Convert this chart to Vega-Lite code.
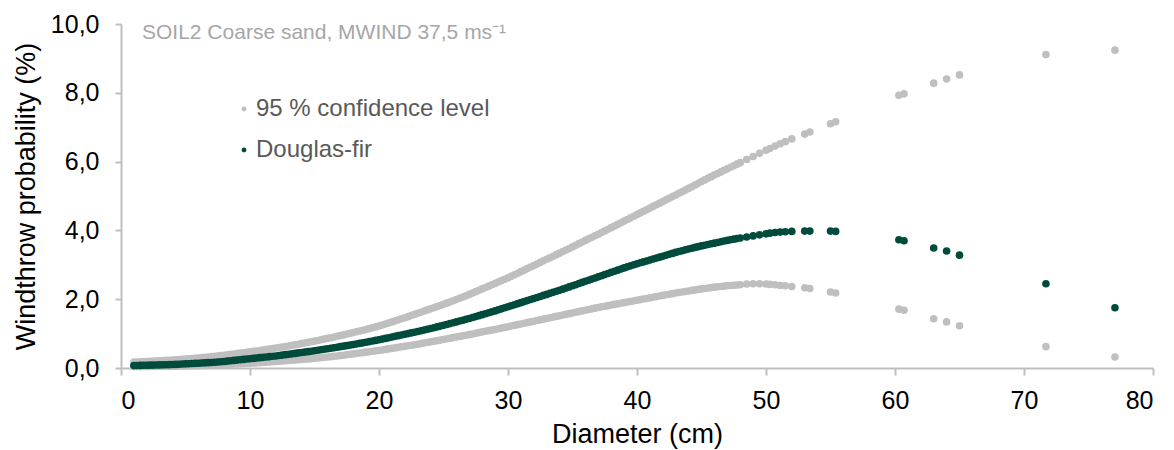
{
  "$schema": "https://vega.github.io/schema/vega-lite/v6.json",
  "width": 1032,
  "height": 344,
  "autosize": {"type": "none"},
  "padding": {"left": 121, "top": 24, "right": 21, "bottom": 82},
  "background": "white",
  "config": {
    "font": "Liberation Sans",
    "view": {"stroke": null},
    "axis": {
      "grid": false,
      "domainColor": "#bfbfbf",
      "domainWidth": 2,
      "tickColor": "#bfbfbf",
      "tickWidth": 2,
      "tickSize": 6,
      "labelFontSize": 25,
      "labelColor": "#000000",
      "titleFontSize": 27,
      "titleFontWeight": "normal",
      "titleColor": "#000000"
    }
  },
  "title": {
    "text": "SOIL2 Coarse sand, MWIND 37,5 ms⁻¹",
    "anchor": "start",
    "frame": "group",
    "fontSize": 21,
    "fontWeight": "normal",
    "color": "#a6a6a6",
    "dx": 21,
    "dy": 31,
    "offset": 0
  },
  "datasets": {
    "trees": [
      {"d":1,"lo":0.04,"fir":0.07,"hi":0.17},{"d":1.5,"lo":0.04,"fir":0.075,"hi":0.18},
      {"d":2,"lo":0.04,"fir":0.08,"hi":0.19},{"d":2.5,"lo":0.045,"fir":0.085,"hi":0.2},
      {"d":3,"lo":0.05,"fir":0.09,"hi":0.21},{"d":3.5,"lo":0.05,"fir":0.095,"hi":0.22},
      {"d":4,"lo":0.05,"fir":0.1,"hi":0.23},{"d":4.5,"lo":0.055,"fir":0.11,"hi":0.245},
      {"d":5,"lo":0.06,"fir":0.12,"hi":0.26},{"d":5.5,"lo":0.065,"fir":0.13,"hi":0.275},
      {"d":6,"lo":0.07,"fir":0.14,"hi":0.29},{"d":6.5,"lo":0.075,"fir":0.15,"hi":0.31},
      {"d":7,"lo":0.08,"fir":0.16,"hi":0.33},{"d":7.5,"lo":0.09,"fir":0.175,"hi":0.35},
      {"d":8,"lo":0.1,"fir":0.19,"hi":0.37},{"d":8.5,"lo":0.11,"fir":0.21,"hi":0.395},
      {"d":9,"lo":0.12,"fir":0.23,"hi":0.42},{"d":9.5,"lo":0.13,"fir":0.25,"hi":0.445},
      {"d":10,"lo":0.14,"fir":0.27,"hi":0.47},{"d":10.5,"lo":0.15,"fir":0.29,"hi":0.495},
      {"d":11,"lo":0.16,"fir":0.31,"hi":0.52},{"d":11.5,"lo":0.175,"fir":0.33,"hi":0.55},
      {"d":12,"lo":0.19,"fir":0.35,"hi":0.58},{"d":12.5,"lo":0.205,"fir":0.375,"hi":0.61},
      {"d":13,"lo":0.22,"fir":0.4,"hi":0.64},{"d":13.5,"lo":0.235,"fir":0.425,"hi":0.675},
      {"d":14,"lo":0.25,"fir":0.45,"hi":0.71},{"d":14.5,"lo":0.265,"fir":0.475,"hi":0.745},
      {"d":15,"lo":0.28,"fir":0.5,"hi":0.78},{"d":15.5,"lo":0.3,"fir":0.53,"hi":0.82},
      {"d":16,"lo":0.32,"fir":0.56,"hi":0.86},{"d":16.5,"lo":0.34,"fir":0.59,"hi":0.9},
      {"d":17,"lo":0.36,"fir":0.62,"hi":0.94},{"d":17.5,"lo":0.385,"fir":0.65,"hi":0.985},
      {"d":18,"lo":0.41,"fir":0.68,"hi":1.03},{"d":18.5,"lo":0.435,"fir":0.715,"hi":1.075},
      {"d":19,"lo":0.46,"fir":0.75,"hi":1.12},{"d":19.5,"lo":0.485,"fir":0.785,"hi":1.17},
      {"d":20,"lo":0.51,"fir":0.82,"hi":1.22},{"d":20.5,"lo":0.54,"fir":0.86,"hi":1.28},
      {"d":21,"lo":0.57,"fir":0.9,"hi":1.34},{"d":21.5,"lo":0.6,"fir":0.94,"hi":1.4},
      {"d":22,"lo":0.63,"fir":0.98,"hi":1.46},{"d":22.5,"lo":0.66,"fir":1.02,"hi":1.525},
      {"d":23,"lo":0.69,"fir":1.06,"hi":1.59},{"d":23.5,"lo":0.725,"fir":1.105,"hi":1.655},
      {"d":24,"lo":0.76,"fir":1.15,"hi":1.72},{"d":24.5,"lo":0.795,"fir":1.195,"hi":1.785},
      {"d":25,"lo":0.83,"fir":1.24,"hi":1.85},{"d":25.5,"lo":0.865,"fir":1.29,"hi":1.92},
      {"d":26,"lo":0.9,"fir":1.34,"hi":1.99},{"d":26.5,"lo":0.935,"fir":1.39,"hi":2.065},
      {"d":27,"lo":0.97,"fir":1.44,"hi":2.14},{"d":27.5,"lo":1.01,"fir":1.495,"hi":2.22},
      {"d":28,"lo":1.05,"fir":1.55,"hi":2.3},{"d":28.5,"lo":1.085,"fir":1.605,"hi":2.38},
      {"d":29,"lo":1.12,"fir":1.66,"hi":2.46},{"d":29.5,"lo":1.16,"fir":1.72,"hi":2.54},
      {"d":30,"lo":1.2,"fir":1.78,"hi":2.62},{"d":30.5,"lo":1.24,"fir":1.84,"hi":2.71},
      {"d":31,"lo":1.28,"fir":1.9,"hi":2.8},{"d":31.5,"lo":1.32,"fir":1.96,"hi":2.89},
      {"d":32,"lo":1.36,"fir":2.02,"hi":2.98},{"d":32.5,"lo":1.4,"fir":2.08,"hi":3.07},
      {"d":33,"lo":1.44,"fir":2.14,"hi":3.16},{"d":33.5,"lo":1.48,"fir":2.2,"hi":3.25},
      {"d":34,"lo":1.52,"fir":2.26,"hi":3.34},{"d":34.5,"lo":1.56,"fir":2.325,"hi":3.43},
      {"d":35,"lo":1.6,"fir":2.39,"hi":3.52},{"d":35.5,"lo":1.64,"fir":2.455,"hi":3.615},
      {"d":36,"lo":1.68,"fir":2.52,"hi":3.71},{"d":36.5,"lo":1.72,"fir":2.585,"hi":3.8},
      {"d":37,"lo":1.76,"fir":2.65,"hi":3.89},{"d":37.5,"lo":1.795,"fir":2.715,"hi":3.985},
      {"d":38,"lo":1.83,"fir":2.78,"hi":4.08},{"d":38.5,"lo":1.865,"fir":2.845,"hi":4.175},
      {"d":39,"lo":1.9,"fir":2.91,"hi":4.27},{"d":39.5,"lo":1.935,"fir":2.97,"hi":4.365},
      {"d":40,"lo":1.97,"fir":3.03,"hi":4.46},{"d":40.5,"lo":2.005,"fir":3.085,"hi":4.555},
      {"d":41,"lo":2.04,"fir":3.14,"hi":4.65},{"d":41.5,"lo":2.075,"fir":3.195,"hi":4.745},
      {"d":42,"lo":2.11,"fir":3.25,"hi":4.84},{"d":42.5,"lo":2.145,"fir":3.305,"hi":4.935},
      {"d":43,"lo":2.18,"fir":3.36,"hi":5.03},{"d":43.5,"lo":2.21,"fir":3.41,"hi":5.125},
      {"d":44,"lo":2.24,"fir":3.46,"hi":5.22},{"d":44.5,"lo":2.27,"fir":3.505,"hi":5.32},
      {"d":45,"lo":2.3,"fir":3.55,"hi":5.42},{"d":45.5,"lo":2.325,"fir":3.59,"hi":5.515},
      {"d":46,"lo":2.35,"fir":3.63,"hi":5.61},{"d":46.5,"lo":2.37,"fir":3.67,"hi":5.7},
      {"d":47,"lo":2.39,"fir":3.71,"hi":5.79},{"d":47.5,"lo":2.405,"fir":3.745,"hi":5.88},
      {"d":48,"lo":2.42,"fir":3.78,"hi":5.97},{"d":48.5,"lo":2.44,"fir":3.81,"hi":6.06},
      {"d":49,"lo":2.45,"fir":3.84,"hi":6.15},{"d":49.5,"lo":2.45,"fir":3.87,"hi":6.24},
      {"d":50,"lo":2.44,"fir":3.9,"hi":6.33},{"d":50.3,"lo":2.43,"fir":3.92,"hi":6.38},
      {"d":50.7,"lo":2.42,"fir":3.94,"hi":6.45},{"d":51.1,"lo":2.4,"fir":3.95,"hi":6.52},
      {"d":51.5,"lo":2.39,"fir":3.96,"hi":6.58},{"d":52,"lo":2.37,"fir":3.97,"hi":6.66},
      {"d":53,"lo":2.33,"fir":3.98,"hi":6.8},{"d":53.4,"lo":2.31,"fir":3.98,"hi":6.86},
      {"d":55,"lo":2.21,"fir":3.98,"hi":7.1},{"d":55.4,"lo":2.18,"fir":3.97,"hi":7.16},
      {"d":60.3,"lo":1.71,"fir":3.73,"hi":7.93},{"d":60.7,"lo":1.68,"fir":3.7,"hi":7.97},
      {"d":63,"lo":1.43,"fir":3.49,"hi":8.28},{"d":64,"lo":1.34,"fir":3.4,"hi":8.4},
      {"d":65,"lo":1.23,"fir":3.28,"hi":8.52},{"d":71.7,"lo":0.62,"fir":2.45,"hi":9.11},
      {"d":77.05,"lo":0.32,"fir":1.75,"hi":9.24},
      {"d":1.25,"lo":0.04,"fir":0.072,"hi":0.175},{"d":1.75,"lo":0.04,"fir":0.078,"hi":0.185},
      {"d":2.25,"lo":0.042,"fir":0.082,"hi":0.195},{"d":2.75,"lo":0.048,"fir":0.088,"hi":0.205},
      {"d":3.25,"lo":0.05,"fir":0.092,"hi":0.215},{"d":3.75,"lo":0.05,"fir":0.098,"hi":0.225},
      {"d":4.25,"lo":0.052,"fir":0.105,"hi":0.238},{"d":4.75,"lo":0.058,"fir":0.115,"hi":0.252},
      {"d":5.25,"lo":0.062,"fir":0.125,"hi":0.268},{"d":5.75,"lo":0.068,"fir":0.135,"hi":0.282},
      {"d":6.25,"lo":0.072,"fir":0.145,"hi":0.3},{"d":6.75,"lo":0.078,"fir":0.155,"hi":0.32},
      {"d":7.25,"lo":0.085,"fir":0.168,"hi":0.34},{"d":7.75,"lo":0.095,"fir":0.182,"hi":0.36},
      {"d":8.25,"lo":0.105,"fir":0.2,"hi":0.382},{"d":8.75,"lo":0.115,"fir":0.22,"hi":0.408},
      {"d":9.25,"lo":0.125,"fir":0.24,"hi":0.432},{"d":9.75,"lo":0.135,"fir":0.26,"hi":0.458},
      {"d":10.25,"lo":0.145,"fir":0.28,"hi":0.482},{"d":10.75,"lo":0.155,"fir":0.3,"hi":0.508},
      {"d":11.25,"lo":0.168,"fir":0.32,"hi":0.535},{"d":11.75,"lo":0.182,"fir":0.34,"hi":0.565},
      {"d":12.25,"lo":0.198,"fir":0.362,"hi":0.595},{"d":12.75,"lo":0.212,"fir":0.388,"hi":0.625},
      {"d":13.25,"lo":0.228,"fir":0.412,"hi":0.658},{"d":13.75,"lo":0.242,"fir":0.438,"hi":0.692},
      {"d":14.25,"lo":0.258,"fir":0.462,"hi":0.728},{"d":14.75,"lo":0.272,"fir":0.488,"hi":0.762},
      {"d":15.25,"lo":0.29,"fir":0.515,"hi":0.8},{"d":15.75,"lo":0.31,"fir":0.545,"hi":0.84},
      {"d":16.25,"lo":0.33,"fir":0.575,"hi":0.88},{"d":16.75,"lo":0.35,"fir":0.605,"hi":0.92},
      {"d":17.25,"lo":0.372,"fir":0.635,"hi":0.962},{"d":17.75,"lo":0.398,"fir":0.665,"hi":1.008},
      {"d":18.25,"lo":0.422,"fir":0.698,"hi":1.052},{"d":18.75,"lo":0.448,"fir":0.732,"hi":1.098},
      {"d":19.25,"lo":0.472,"fir":0.768,"hi":1.145},{"d":19.75,"lo":0.498,"fir":0.802,"hi":1.195},
      {"d":20.25,"lo":0.525,"fir":0.84,"hi":1.25},{"d":20.75,"lo":0.555,"fir":0.88,"hi":1.31},
      {"d":21.25,"lo":0.585,"fir":0.92,"hi":1.37},{"d":21.75,"lo":0.615,"fir":0.96,"hi":1.43},
      {"d":22.25,"lo":0.645,"fir":1.0,"hi":1.492},{"d":22.75,"lo":0.675,"fir":1.04,"hi":1.558},
      {"d":23.25,"lo":0.708,"fir":1.082,"hi":1.622},{"d":23.75,"lo":0.742,"fir":1.128,"hi":1.688},
      {"d":24.25,"lo":0.778,"fir":1.172,"hi":1.752},{"d":24.75,"lo":0.812,"fir":1.218,"hi":1.818},
      {"d":25.25,"lo":0.848,"fir":1.265,"hi":1.885},{"d":25.75,"lo":0.882,"fir":1.315,"hi":1.955},
      {"d":26.25,"lo":0.918,"fir":1.365,"hi":2.028},{"d":26.75,"lo":0.952,"fir":1.415,"hi":2.102},
      {"d":27.25,"lo":0.99,"fir":1.468,"hi":2.18},{"d":27.75,"lo":1.03,"fir":1.522,"hi":2.26},
      {"d":28.25,"lo":1.068,"fir":1.578,"hi":2.34},{"d":28.75,"lo":1.102,"fir":1.632,"hi":2.42},
      {"d":29.25,"lo":1.14,"fir":1.69,"hi":2.5},{"d":29.75,"lo":1.18,"fir":1.75,"hi":2.58},
      {"d":30.25,"lo":1.22,"fir":1.81,"hi":2.665},{"d":30.75,"lo":1.26,"fir":1.87,"hi":2.755},
      {"d":31.25,"lo":1.3,"fir":1.93,"hi":2.845},{"d":31.75,"lo":1.34,"fir":1.99,"hi":2.935},
      {"d":32.25,"lo":1.38,"fir":2.05,"hi":3.025},{"d":32.75,"lo":1.42,"fir":2.11,"hi":3.115},
      {"d":33.25,"lo":1.46,"fir":2.17,"hi":3.205},{"d":33.75,"lo":1.5,"fir":2.23,"hi":3.295},
      {"d":34.25,"lo":1.54,"fir":2.292,"hi":3.385},{"d":34.75,"lo":1.58,"fir":2.358,"hi":3.475},
      {"d":35.25,"lo":1.62,"fir":2.422,"hi":3.568},{"d":35.75,"lo":1.66,"fir":2.488,"hi":3.662},
      {"d":36.25,"lo":1.7,"fir":2.552,"hi":3.755},{"d":36.75,"lo":1.74,"fir":2.618,"hi":3.845},
      {"d":37.25,"lo":1.778,"fir":2.682,"hi":3.938},{"d":37.75,"lo":1.812,"fir":2.748,"hi":4.032},
      {"d":38.25,"lo":1.848,"fir":2.812,"hi":4.128},{"d":38.75,"lo":1.882,"fir":2.878,"hi":4.222},
      {"d":39.25,"lo":1.918,"fir":2.94,"hi":4.318},{"d":39.75,"lo":1.952,"fir":3.0,"hi":4.412},
      {"d":40.25,"lo":1.988,"fir":3.058,"hi":4.508},{"d":40.75,"lo":2.022,"fir":3.112,"hi":4.602},
      {"d":41.25,"lo":2.058,"fir":3.168,"hi":4.698},{"d":41.75,"lo":2.092,"fir":3.222,"hi":4.792},
      {"d":42.25,"lo":2.128,"fir":3.278,"hi":4.888},{"d":42.75,"lo":2.162,"fir":3.332,"hi":4.982},
      {"d":43.25,"lo":2.195,"fir":3.385,"hi":5.078},{"d":43.75,"lo":2.225,"fir":3.435,"hi":5.172},
      {"d":44.25,"lo":2.255,"fir":3.482,"hi":5.27},{"d":44.75,"lo":2.285,"fir":3.528,"hi":5.37},
      {"d":45.25,"lo":2.312,"fir":3.57,"hi":5.468},{"d":45.75,"lo":2.338,"fir":3.61,"hi":5.562},
      {"d":46.25,"lo":2.36,"fir":3.65,"hi":5.655},{"d":46.75,"lo":2.38,"fir":3.69,"hi":5.745},
      {"d":47.25,"lo":2.398,"fir":3.728,"hi":5.835},{"d":47.75,"lo":2.412,"fir":3.762,"hi":5.925}
    ]
  },
  "data": {"name": "trees"},
  "encoding": {
    "x": {
      "field": "d",
      "type": "quantitative",
      "scale": {"domain": [0, 80], "nice": false, "zero": false},
      "axis": {
        "values": [0, 10, 20, 30, 40, 50, 60, 70, 80],
        "tickSize": 7,
        "labelPadding": 13,
        "title": "Diameter (cm)",
        "titlePadding": 8
      }
    }
  },
  "layer": [
    {
      "transform": [{"fold": ["hi", "lo"], "as": ["k", "p"]}],
      "mark": {"type": "circle", "size": 58, "opacity": 1},
      "encoding": {
        "y": {
          "field": "p",
          "type": "quantitative",
          "scale": {"domain": [0, 10], "nice": false},
          "axis": {
            "values": [0, 2, 4, 6, 8, 10],
            "labelExpr": "replace(format(datum.value, '.1f'), '.', ',')",
            "labelPadding": 16,
            "title": "Windthrow probability (%)",
            "titlePadding": 10
          }
        },
        "color": {
          "datum": "95 % confidence level",
          "scale": {"domain": ["95 % confidence level", "Douglas-fir"], "range": ["#bfbfbf", "#004b3b"]},
          "legend": {
            "orient": "none",
            "legendX": 111,
            "legendY": 73,
            "title": null,
            "labelFontSize": 24,
            "labelColor": "#595959",
            "labelLimit": 0,
            "symbolType": "circle",
            "symbolSize": 24,
            "symbolStrokeWidth": 0,
            "rowPadding": 17,
            "labelOffset": 0,
            "padding": 0
          }
        }
      }
    },
    {
      "mark": {"type": "circle", "size": 58, "opacity": 1},
      "encoding": {
        "y": {
          "field": "fir",
          "type": "quantitative",
          "scale": {"domain": [0, 10], "nice": false},
          "axis": {
            "values": [0, 2, 4, 6, 8, 10],
            "labelExpr": "replace(format(datum.value, '.1f'), '.', ',')",
            "labelPadding": 16,
            "title": "Windthrow probability (%)",
            "titlePadding": 10
          }
        },
        "color": {"datum": "Douglas-fir"}
      }
    }
  ]
}
